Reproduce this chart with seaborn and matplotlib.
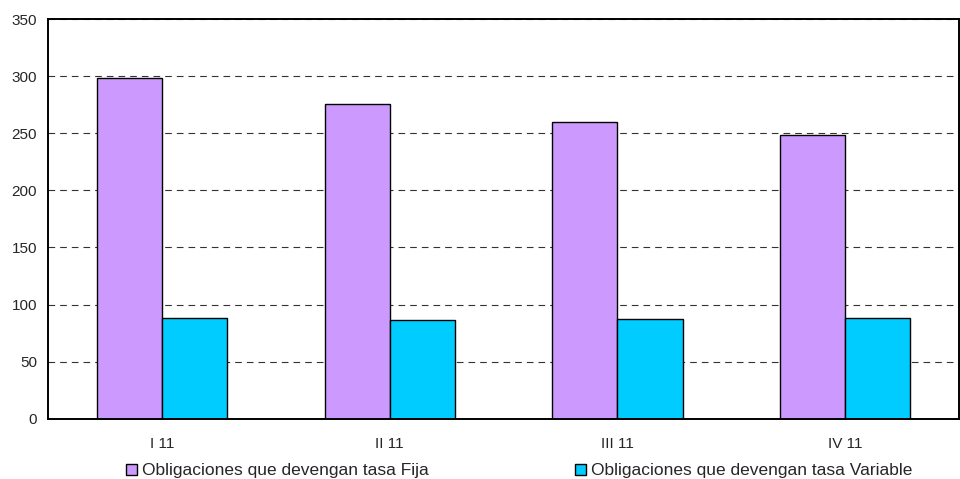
import matplotlib
matplotlib.use("Agg")
import matplotlib.pyplot as plt
import seaborn as sns
import pandas as pd
import numpy as np

categories = ["I 11", "II 11", "III 11", "IV 11"]
fija = [298.5, 276, 260, 248.5]
variable = [88.5, 86.5, 87.5, 88.5]
series_names = ["Obligaciones que devengan tasa Fija", "Obligaciones que devengan tasa Variable"]
colors = ["#CC99FF", "#00CCFF"]
yticks = [0, 50, 100, 150, 200, 250, 300, 350]

df = pd.DataFrame({
    "cat": categories * 2,
    "val": fija + variable,
    "serie": [series_names[0]] * 4 + [series_names[1]] * 4,
})

sns.set_style("white")
plt.rcParams["font.family"] = ["Liberation Sans", "DejaVu Sans"]

fig = plt.figure(figsize=(9.6, 4.79), dpi=100)
ax = fig.add_axes([0.05, 0.126, 0.949, 0.834])

sns.barplot(data=df, x="cat", y="val", hue="serie", order=categories,
            hue_order=series_names, palette=colors, width=0.572, gap=0,
            edgecolor="black", linewidth=1.0, saturation=1, ax=ax, legend=True)

ax.set_ylim(0, 350)
ax.set_xlim(-0.5, 3.5)
ax.set_yticks(yticks)
ax.set_yticklabels([str(v) for v in yticks], fontsize=11)
ax.set_xlabel("")
ax.set_ylabel("")
ax.tick_params(axis="x", which="major", length=0, labelsize=11, pad=13.5)
ax.set_xticks([-0.5, 0.5, 1.5, 2.5], minor=True)
ax.tick_params(axis="x", which="minor", length=4, width=1, color="black", direction="out")
ax.tick_params(axis="y", length=4, width=1, color="black", direction="out", pad=4)
ax.yaxis.grid(True, linestyle=(0, (6, 4.5)), color="#333333", linewidth=0.8)
ax.set_axisbelow(True)
for s in ax.spines.values():
    s.set_visible(True)
    s.set_color("black")
    s.set_linewidth(1.4)

h, l = ax.get_legend_handles_labels()
ax.get_legend().remove()
fig.legend(h, l, loc="center", bbox_to_anchor=(0.541, 1 - 471 / 479), ncol=2, frameon=False,
           fontsize=12.5, handlelength=0.63, handleheight=0.63, handletextpad=0.3,
           columnspacing=8.4, borderpad=0, borderaxespad=0)

fig.savefig("out.png", dpi=100)
